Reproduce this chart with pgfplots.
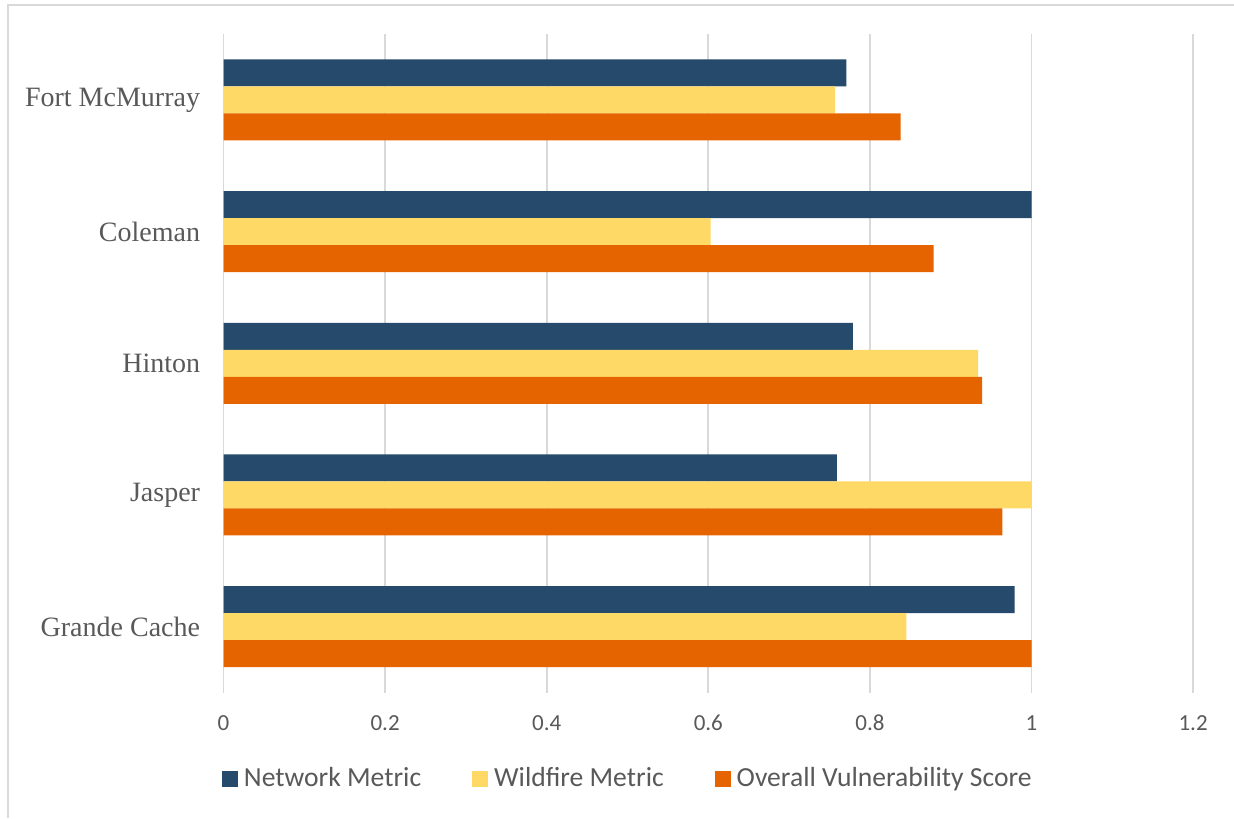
\documentclass[border=0pt]{standalone}
\usepackage{pgfplots}
\pgfplotsset{compat=1.18}
\usepackage{fontspec}
\setmainfont{Liberation Serif}
\newfontfamily\calibri{Carlito}
\definecolor{netblue}{HTML}{254A6B}
\definecolor{fireyellow}{HTML}{FFD966}
\definecolor{overorange}{HTML}{E66400}
\definecolor{gridgray}{HTML}{D9D9D9}
\definecolor{textgray}{HTML}{595959}
\begin{document}
\begin{tikzpicture}
  % page frame: 1234x818 px at 0.5pt per px
  \useasboundingbox (0,0) rectangle (617pt,-409pt);
  \draw[gridgray, line width=1pt] (3.75pt,-409pt) -- (3.75pt,-2.5pt) -- (617pt,-2.5pt);
  \begin{axis}[
    at={(111.75pt,-346.25pt)},
    anchor=south west,
    scale only axis,
    width=484.8pt,
    height=329.25pt,
    xbar,
    bar width=0.205,
    xmin=0, xmax=1.2,
    ymin=-0.5, ymax=4.5,
    xtick={0,0.2,...,1.2},
    ytick={0,1,2,3,4},
    yticklabels={Grande Cache,Jasper,Hinton,Coleman,Fort McMurray},
    axis line style={draw=none},
    major tick style={draw=none},
    xmajorgrids,
    major grid style={gridgray, line width=0.9pt},
    /pgf/number format/assume math mode=true,
    xticklabel style={font=\calibri\fontsize{11.5}{13}\selectfont, text=textgray, anchor=center, yshift=-15.25pt},
    yticklabel style={font=\fontsize{14}{16}\selectfont, text=textgray, anchor=east, inner sep=0pt, xshift=-7.25pt},
    legend columns=3,
    legend style={at={(0.418,-0.131)}, anchor=center, draw=none,
      font=\calibri\fontsize{13.8}{16}\selectfont, text=textgray,
      /tikz/every odd column/.append style={column sep=1pt},
      /tikz/every even column/.append style={column sep=23.5pt}},
    legend image code/.code={\fill[#1] (0pt,-4.1pt) rectangle (8pt,4.1pt);},
  ]
    \addplot[draw=none, fill=netblue, bar shift=0.205] coordinates {
      (0.979,0) (0.759,1) (0.779,2) (1.000,3) (0.771,4)
    };
    \addplot[draw=none, fill=fireyellow, bar shift=0] coordinates {
      (0.845,0) (1.000,1) (0.934,2) (0.603,3) (0.757,4)
    };
    \addplot[draw=none, fill=overorange, bar shift=-0.205] coordinates {
      (1.000,0) (0.964,1) (0.939,2) (0.879,3) (0.838,4)
    };
    \legend{Network Metric, Wildfire Metric, Overall Vulnerability Score}
  \end{axis}
\end{tikzpicture}
\end{document}
